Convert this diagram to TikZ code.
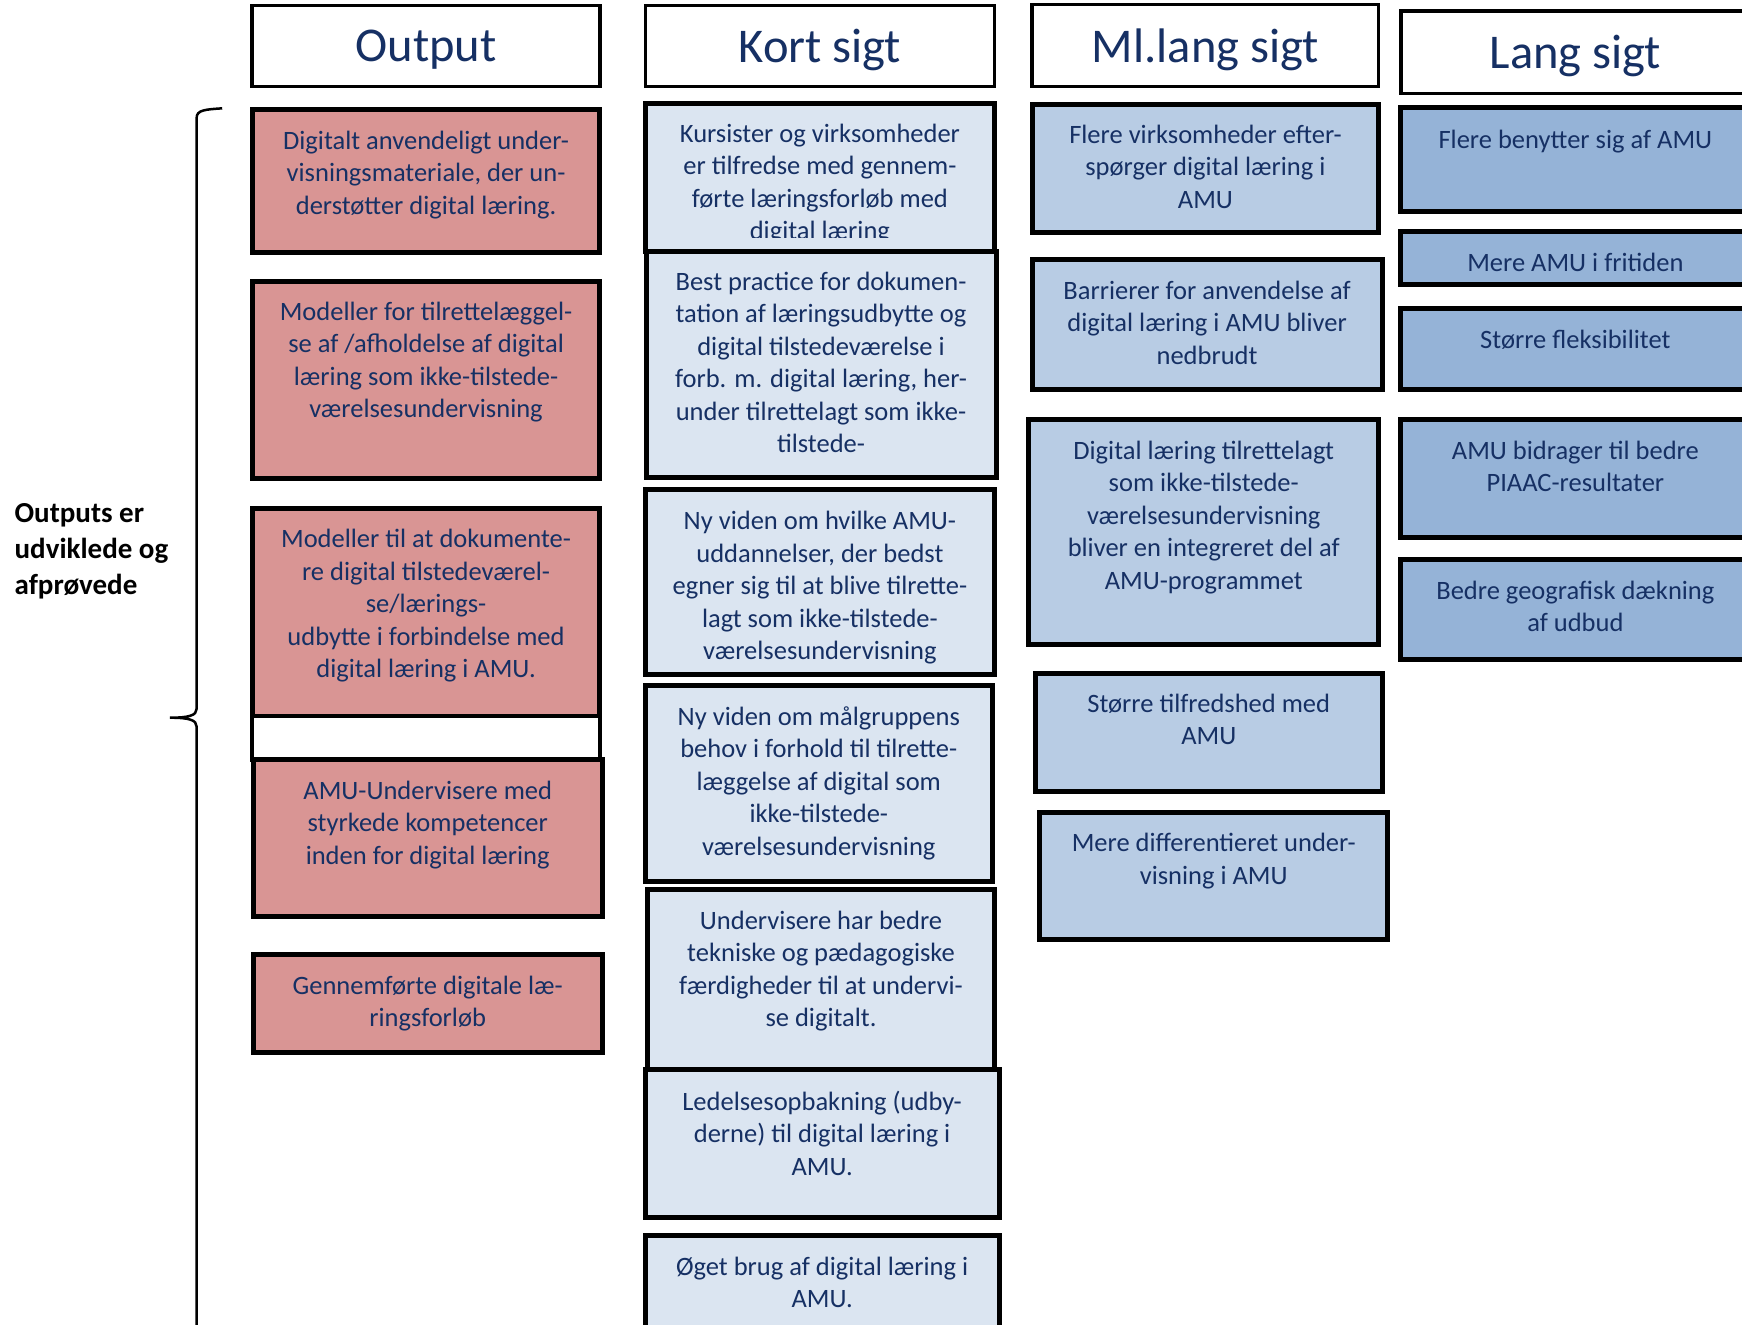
\documentclass[tikz,border=0pt]{standalone}
\usepackage{fontspec}
\setmainfont{Carlito}
\usepackage{tikz}
\usetikzlibrary{positioning}
\usepackage{xcolor}
\definecolor{navy}{RGB}{22,48,100}
\definecolor{outred}{RGB}{217,149,148}
\definecolor{kortblue}{RGB}{219,229,241}
\definecolor{mlblue}{RGB}{184,204,228}
\definecolor{langblue}{RGB}{149,179,215}
\tikzset{
  hdrbox/.style={draw=black,line width=3.5pt,fill=white},
  outbox/.style={draw=black,line width=5pt,fill=outred},
  kortbox/.style={draw=black,line width=5pt,fill=kortblue},
  mlbox/.style={draw=black,line width=5pt,fill=mlblue},
  langbox/.style={draw=black,line width=5pt,fill=langblue},
  hdrtxt/.style={inner sep=0pt,text=navy,font=\fontsize{48.5}{58}\selectfont},
  txt/.style={anchor=north,inner sep=0pt,align=center,text=navy,
    font=\fontsize{26.5}{32.5}\selectfont,execute at begin node=\strut},
  sidelbl/.style={anchor=north west,inner sep=0pt,align=left,
    font=\fontsize{29}{36}\selectfont\bfseries,execute at begin node=\strut},
  brace/.style={draw=black,line width=2.5pt},
}

\begin{document}
\begin{tikzpicture}[x=1.111pt,y=-1.111pt]
\useasboundingbox (0,0) rectangle (1568,1192);
% column heads
\draw[hdrbox] (227,5) rectangle (540,78);
\draw[hdrbox] (581,5) rectangle (895,78);
\draw[hdrbox] (929,4) rectangle (1241,78);
\draw[hdrbox] (1261,10) rectangle (1600,84);
\node[hdrtxt] (hout) at (383.5,45) {Output};
\node[hdrtxt] (hkort) at (738,45) {Kort sigt};
\node[hdrtxt] (hml) at (1085,44.5) {Ml.lang sigt};
\node[hdrtxt] (hlang) at (1418,50.5) {Lang sigt};
% output column
\draw[outbox] (227,99) rectangle (540,227);
\node[txt] (out1) at (383.5,117.5) {Digitalt anvendeligt under-\\visningsmateriale, der un-\\derstøtter digital læring.};
\draw[outbox] (227,253) rectangle (540,431);
\node[txt] (out2) at (383.5,271.5) {Modeller for tilrettelæggel-\\se af /afholdelse af digital\\læring som ikke-tilstede-\\værelsesundervisning};
\draw[outbox] (227,458) rectangle (540,645);
\node[txt] (out3) at (383.5,476.5) {Modeller til at dokumente-\\re digital tilstedeværel-\\se/lærings-\\udbytte i forbindelse med\\digital læring i AMU.};
\draw[hdrbox] (227,645) rectangle (540,684);
\draw[outbox] (228,684) rectangle (542,825);
\node[txt] (out4) at (385,702.5) {AMU-Undervisere med\\styrkede kompetencer\\inden for digital læring};
\draw[outbox] (228,859) rectangle (542,947);
\node[txt] (out5) at (385,878) {Gennemførte digitale læ-\\ringsforløb};
% kort sigt column
\draw[kortbox] (581,93) rectangle (895,226);
\begin{scope}
  \clip (581,93) rectangle (895,214);
  \node[txt] (kort1) at (738,111.5) {Kursister og virksomheder\\er tilfredse med gennem-\\førte læringsforløb med\\digital læring};
\end{scope}
\draw[kortbox] (582,226) rectangle (897,430);
\node[txt] (kort2) at (739,244.5) {Best practice for dokumen-\\tation af læringsudbytte og\\digital tilstedeværelse i\\forb. m. digital læring, her-\\under tilrettelagt som ikke-\\tilstede-};
\draw[kortbox] (581,441) rectangle (895,607);
\begin{scope}
  \clip (581,441) rectangle (895,597);
  \node[txt] (kort3) at (738,460) {Ny viden om hvilke AMU-\\uddannelser, der bedst\\egner sig til at blive tilrette-\\lagt som ikke-tilstede-\\værelsesundervisning};
\end{scope}
\draw[kortbox] (581,617) rectangle (893,793);
\node[txt] (kort4) at (737,635.5) {Ny viden om målgruppens\\behov i forhold til tilrette-\\læggelse af digital som\\ikke-tilstede-\\værelsesundervisning};
\draw[kortbox] (583,801) rectangle (895,963);
\node[txt] (kort5) at (739,819.5) {Undervisere har bedre\\tekniske og pædagogiske\\færdigheder til at undervi-\\se digitalt.};
\draw[kortbox] (581,963) rectangle (900,1096);
\node[txt] (kort6) at (740,981.5) {Ledelsesopbakning (udby-\\derne) til digital læring i\\AMU.};
\draw[kortbox] (581,1112) rectangle (900,1210);
\node[txt] (kort7) at (740,1131) {Øget brug af digital læring i\\AMU.};
% ml.lang sigt column
\draw[mlbox] (929,94) rectangle (1241,209);
\node[txt] (ml1) at (1085,112) {Flere virksomheder efter-\\spørger digital læring i\\AMU};
\draw[mlbox] (929,234) rectangle (1244,351);
\node[txt] (ml2) at (1086.5,252.5) {Barrierer for anvendelse af\\digital læring i AMU bliver\\nedbrudt};
\draw[mlbox] (926,378) rectangle (1241,580);
\node[txt] (ml3) at (1083.5,396.5) {Digital læring tilrettelagt\\som ikke-tilstede-\\værelsesundervisning\\bliver en integreret del af\\AMU-programmet};
\draw[mlbox] (932,606) rectangle (1244,712);
\node[txt] (ml4) at (1088,624.5) {Større tilfredshed med\\AMU};
\draw[mlbox] (936,731) rectangle (1249,846);
\node[txt] (ml5) at (1092.5,750) {Mere differentieret under-\\visning i AMU};
% lang sigt column
\draw[langbox] (1261,97) rectangle (1600,190);
\node[txt] (lang1) at (1418,113) {Flere benytter sig af AMU};
\draw[langbox] (1261,208) rectangle (1600,256);
\node[txt] (lang2) at (1418,223.5) {Mere AMU i fritiden};
\draw[langbox] (1261,278) rectangle (1600,351);
\node[txt] (lang3) at (1418,293) {Større fleksibilitet};
\draw[langbox] (1261,378) rectangle (1600,484);
\node[txt] (lang4) at (1418,396.5) {AMU bidrager til bedre\\PIAAC-resultater};
\draw[langbox] (1261,504) rectangle (1600,594);
\node[txt] (lang5) at (1418,522.5) {Bedre geografisk dækning\\af udbud};
% brace and its label
\draw[brace] (200,97.5) .. controls (185,98.5) and (177,99) .. (177,106)
  -- (177,638) .. controls (177,644) and (170,646) .. (153,646)
  .. controls (170,646) and (177,648) .. (177,654) -- (177,1200);
\node[sidelbl] (lbl) at (13,453) {Outputs er\\udviklede og\\afprøvede};
\end{tikzpicture}
\end{document}
